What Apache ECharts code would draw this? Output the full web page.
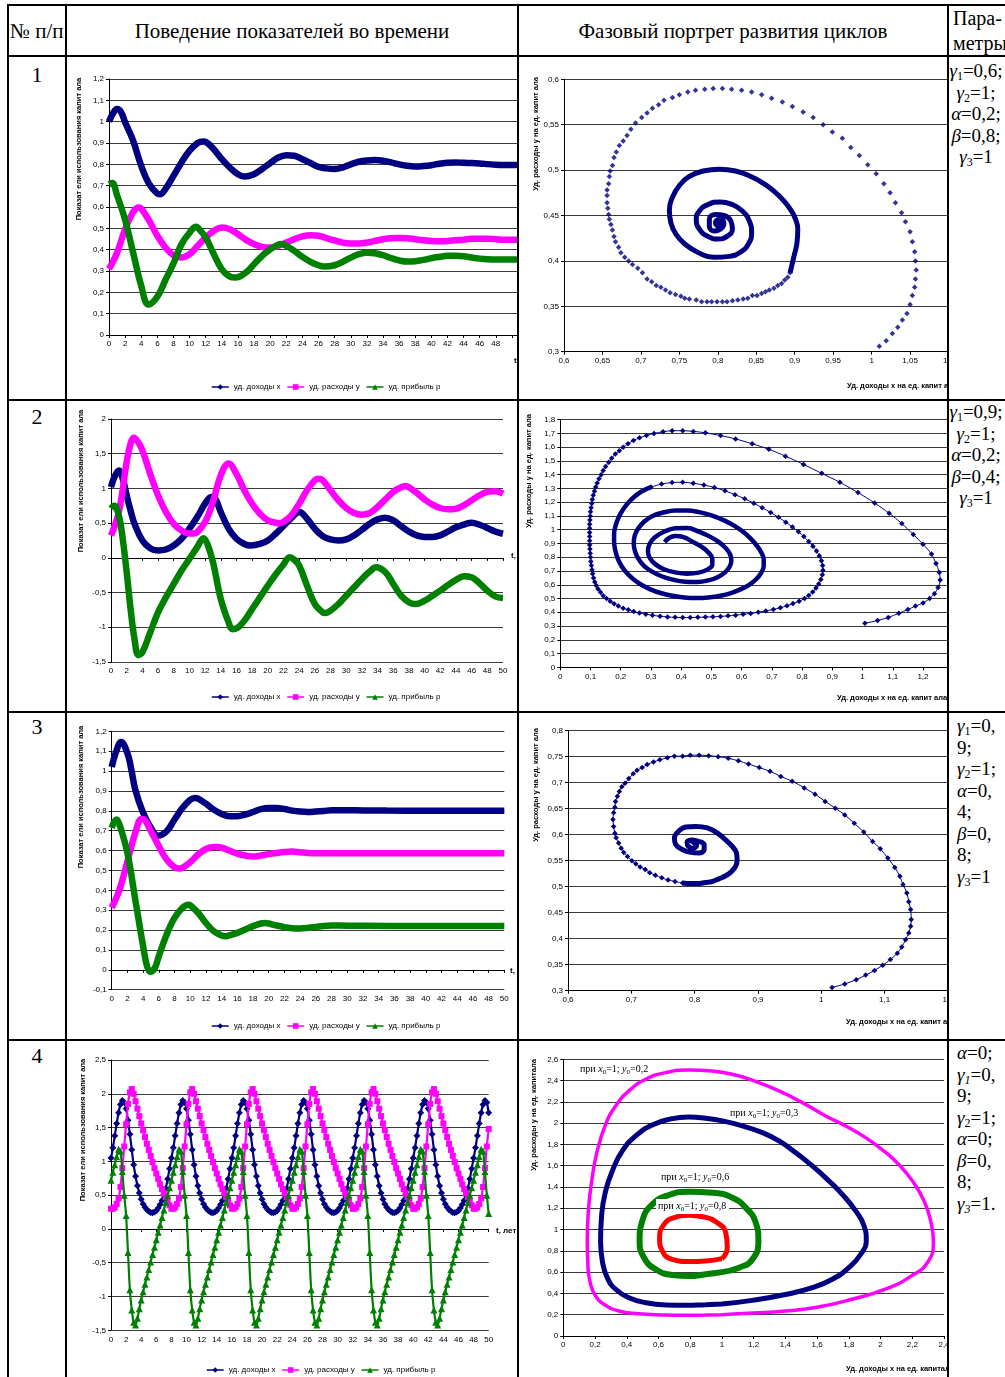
<!DOCTYPE html>
<html lang="ru"><head><meta charset="utf-8"><title>Циклы</title>
<script src="https://cdn.jsdelivr.net/npm/echarts@6.0.0/dist/echarts.min.js"></script>
<style>
html,body{margin:0;padding:0;background:#fff;}
body{width:1005px;height:1377px;overflow:hidden;position:relative;font-family:"Liberation Serif","Times New Roman",serif;color:#000;}
.ln{position:absolute;background:#000;z-index:5;}
.clip{position:absolute;overflow:hidden;}
.ch{position:absolute;}
.tx{position:absolute;white-space:nowrap;line-height:1;}
.par{position:absolute;font-size:19px;line-height:21.5px;white-space:nowrap;}
.par sub{font-size:12px;vertical-align:-3px;line-height:0;}
.ann{position:absolute;font-size:10px;white-space:nowrap;line-height:1;z-index:4;}
.ann sub{font-size:7px;vertical-align:-2px;line-height:0;}
</style></head><body>

<div class="clip" style="left:67px;top:57px;width:450px;height:342px"><div id="t1" class="ch" style="left:-1px;top:-1px;width:540px;height:344px"></div></div>
<div class="clip" style="left:519px;top:57px;width:428px;height:342px"><div id="f1" class="ch" style="left:-1px;top:-1px;width:540px;height:344px"></div></div>
<div class="clip" style="left:67px;top:401px;width:450px;height:310px"><div id="t2" class="ch" style="left:-1px;top:-1px;width:540px;height:312px"></div></div>
<div class="clip" style="left:519px;top:401px;width:428px;height:310px"><div id="f2" class="ch" style="left:-1px;top:-1px;width:540px;height:312px"></div></div>
<div class="clip" style="left:67px;top:713px;width:450px;height:326px"><div id="t3" class="ch" style="left:-1px;top:-1px;width:540px;height:328px"></div></div>
<div class="clip" style="left:519px;top:713px;width:428px;height:326px"><div id="f3" class="ch" style="left:-1px;top:-1px;width:540px;height:328px"></div></div>
<div class="clip" style="left:67px;top:1041px;width:450px;height:336px"><div id="t4" class="ch" style="left:-1px;top:-1px;width:540px;height:338px"></div></div>
<div class="clip" style="left:519px;top:1041px;width:428px;height:336px"><div id="f4" class="ch" style="left:-1px;top:-1px;width:540px;height:338px"></div></div>

<div class="ann" style="left:580px;top:1064px">при <i>x</i><sub>0</sub>=1; <i>y</i><sub>0</sub>=0,2</div>
<div class="ann" style="left:730px;top:1108px">при <i>x</i><sub>0</sub>=1; <i>y</i><sub>0</sub>=0,3</div>
<div class="ann" style="left:661px;top:1172px">при <i>x</i><sub>0</sub>=1; <i>y</i><sub>0</sub>=0,6</div>
<div class="ann" style="left:656px;top:1199px;background:#fff;padding:2px 3px 3px 2px">при <i>x</i><sub>0</sub>=1; <i>y</i><sub>0</sub>=0,8</div>

<div class="tx" style="left:10px;top:21px;font-size:21px">№ п/п</div>
<div class="tx" style="left:67px;width:450px;top:21px;font-size:21px;text-align:center">Поведение показателей во времени</div>
<div class="tx" style="left:519px;width:428px;top:21px;font-size:21px;text-align:center">Фазовый портрет развития циклов</div>
<div class="tx" style="left:953px;top:8px;font-size:20px">Пара-</div>
<div class="tx" style="left:953px;top:33px;font-size:20px">метры</div>

<div class="tx" style="left:9px;width:56px;top:64px;font-size:22px;text-align:center">1</div>
<div class="tx" style="left:9px;width:56px;top:406px;font-size:22px;text-align:center">2</div>
<div class="tx" style="left:9px;width:56px;top:716px;font-size:22px;text-align:center">3</div>
<div class="tx" style="left:9px;width:56px;top:1045px;font-size:22px;text-align:center">4</div>

<div class="par" style="left:947px;width:58px;top:60px;text-align:center"><i>γ</i><sub>1</sub>=0,6;<br><i>γ</i><sub>2</sub>=1;<br><i>α</i>=0,2;<br><i>β</i>=0,8;<br><i>γ</i><sub>3</sub>=1</div>
<div class="par" style="left:947px;width:58px;top:401px;text-align:center"><i>γ</i><sub>1</sub>=0,9;<br><i>γ</i><sub>2</sub>=1;<br><i>α</i>=0,2;<br><i>β</i>=0,4;<br><i>γ</i><sub>3</sub>=1</div>
<div class="par" style="left:957px;top:715px"><i>γ</i><sub>1</sub>=0,<br>9;<br><i>γ</i><sub>2</sub>=1;<br><i>α</i>=0,<br>4;<br><i>β</i>=0,<br>8;<br><i>γ</i><sub>3</sub>=1</div>
<div class="par" style="left:957px;top:1042px"><i>α</i>=0;<br><i>γ</i><sub><i>1</i></sub>=0,<br>9;<br><i>γ</i><sub>2</sub>=1;<br><i>α</i>=0;<br><i>β</i>=0,<br>8;<br><i>γ</i><sub><i>3</i></sub>=1.</div>

<div class="ln" style="left:7px;top:4px;width:998px;height:2px"></div>
<div class="ln" style="left:7px;top:55px;width:998px;height:2px"></div>
<div class="ln" style="left:7px;top:399px;width:998px;height:2px"></div>
<div class="ln" style="left:7px;top:711px;width:998px;height:2px"></div>
<div class="ln" style="left:7px;top:1039px;width:998px;height:2px"></div>
<div class="ln" style="left:7px;top:4px;width:2px;height:1373px"></div>
<div class="ln" style="left:65px;top:4px;width:2px;height:1373px"></div>
<div class="ln" style="left:517px;top:4px;width:2px;height:1373px"></div>
<div class="ln" style="left:947px;top:4px;width:2px;height:1373px"></div>

<script>
// ---------- data ----------
const seriesNames = ['уд. доходы x', 'уд. расходы y', 'уд. прибыль p'];
const timeAxisName = 't,';
const timeAxisName4 = 't, лет';
const yNameTime = 'Показат ели использования капит ала';
const yNamePhase = 'Уд. расходы у на ед. капит ала';
const xNamePhase = 'Уд. доходы х на ед. капит ала';
const yNamePhase4 = 'Уд. расходы у на ед. капитала';
const xNamePhase4 = 'Уд. доходы х на ед. капитала';

// Row 1 (time, value)
const r1x = [[0,1.0],[0.5,1.04],[1,1.059],[1.5,1.045],[2,0.997],[3,0.91],[4,0.793],[5,0.707],[6,0.663],[6.3,0.66],[7,0.684],[8,0.746],[9,0.809],[10,0.864],[11,0.9],[11.7,0.907],[12,0.905],[13,0.871],[14,0.824],[15,0.785],[16,0.754],[16.8,0.743],[18,0.754],[19,0.778],[20,0.806],[21,0.832],[22,0.843],[23,0.84],[24,0.824],[25,0.806],[26,0.788],[27,0.781],[28,0.778],[29,0.785],[30,0.8],[31,0.812],[32,0.818],[33,0.82],[34,0.817],[35,0.809],[36,0.8],[37,0.793],[38,0.79],[39,0.792],[40,0.796],[41,0.803],[42,0.807],[43,0.809],[44,0.807],[45,0.806],[46,0.804],[47,0.801],[48,0.798],[49,0.797],[50,0.797],[51,0.798]];
const r1y = [[0,0.31],[1,0.386],[2,0.496],[3,0.577],[3.7,0.598],[4,0.593],[5,0.535],[6,0.465],[7,0.41],[8,0.374],[9,0.363],[10,0.379],[11,0.418],[12,0.457],[13,0.488],[14,0.504],[15,0.496],[16,0.472],[17,0.446],[18,0.426],[19,0.413],[20,0.41],[21,0.418],[22,0.433],[23,0.449],[24,0.462],[25,0.468],[26,0.465],[27,0.454],[28,0.443],[29,0.433],[30,0.429],[31,0.429],[32,0.433],[33,0.441],[34,0.449],[35,0.454],[36,0.455],[37,0.454],[38,0.449],[39,0.444],[40,0.441],[41,0.44],[42,0.441],[43,0.444],[44,0.447],[45,0.451],[46,0.451],[47,0.451],[48,0.449],[49,0.447],[50,0.447],[51,0.447]];
const r1p = [[0,0.707],[0.4,0.712],[1,0.655],[2,0.54],[3,0.385],[4,0.23],[4.9,0.143],[6,0.18],[7,0.258],[8,0.336],[9,0.426],[10,0.48],[10.8,0.508],[11,0.504],[12,0.457],[13,0.379],[14,0.308],[15,0.274],[15.7,0.269],[17,0.293],[18,0.332],[19,0.371],[20,0.402],[21,0.424],[21.3,0.426],[22,0.418],[23,0.394],[24,0.366],[25,0.343],[26,0.327],[26.7,0.321],[28,0.327],[29,0.343],[30,0.363],[31,0.379],[32,0.386],[33,0.383],[34,0.374],[35,0.361],[36,0.35],[37,0.344],[38,0.346],[39,0.352],[40,0.36],[41,0.366],[42,0.371],[43,0.371],[44,0.369],[45,0.363],[46,0.358],[47,0.355],[48,0.354],[49,0.354],[50,0.354],[51,0.354]];

// Row 2
const r2x = [[0,1.02],[0.5,1.18],[1,1.26],[1.5,1.14],[2,0.9],[2.5,0.68],[3,0.49],[4,0.25],[5,0.14],[6,0.106],[7,0.12],[8,0.178],[9,0.275],[10,0.42],[11,0.588],[12,0.78],[12.8,0.877],[13.3,0.85],[14,0.66],[15,0.42],[16,0.275],[17,0.2],[17.8,0.178],[19,0.2],[20,0.25],[21,0.347],[22,0.458],[23,0.573],[24,0.66],[25,0.564],[26,0.42],[27,0.313],[28,0.265],[29,0.25],[30,0.265],[31,0.323],[32,0.405],[33,0.49],[34,0.554],[35,0.578],[36,0.54],[37,0.458],[38,0.38],[39,0.323],[40,0.3],[41,0.3],[42,0.323],[43,0.38],[44,0.44],[45,0.48],[46,0.506],[47,0.477],[48,0.43],[49,0.38],[50,0.347]];
const r2y = [[0,0.323],[1,0.66],[2,1.38],[2.5,1.65],[2.9,1.73],[3.5,1.66],[4,1.55],[5,1.21],[6,0.9],[7,0.66],[8,0.49],[9,0.395],[10,0.35],[10.5,0.35],[11,0.37],[12,0.516],[13,0.805],[14,1.19],[15,1.36],[16,1.21],[17,0.973],[18,0.78],[19,0.636],[20,0.54],[21,0.506],[21.5,0.5],[22,0.516],[23,0.612],[24,0.78],[25,0.973],[26,1.118],[26.5,1.14],[27,1.118],[28,0.973],[29,0.83],[30,0.718],[31,0.646],[32,0.622],[33,0.646],[34,0.733],[35,0.843],[36,0.95],[37,1.017],[37.6,1.03],[38,1.017],[39,0.935],[40,0.843],[41,0.766],[42,0.718],[43,0.699],[44,0.708],[45,0.757],[46,0.83],[47,0.9],[48,0.95],[49,0.96],[50,0.925]];
const r2p = [[0,0.71],[0.4,0.75],[1,0.61],[1.5,0.27],[2,-0.207],[2.5,-0.737],[3,-1.17],[3.5,-1.4],[4,-1.36],[5,-1.075],[6,-0.785],[7,-0.57],[8,-0.376],[9,-0.183],[10,-0.014],[11,0.154],[11.8,0.284],[12.3,0.2],[13,-0.06],[14,-0.59],[15,-0.93],[15.5,-1.027],[16,-1.017],[17,-0.906],[18,-0.737],[19,-0.569],[20,-0.4],[21,-0.24],[22,-0.096],[22.8,0.01],[23.3,-0.02],[24,-0.11],[25,-0.4],[26,-0.665],[27,-0.785],[27.3,-0.795],[28,-0.76],[29,-0.665],[30,-0.545],[31,-0.424],[32,-0.304],[33,-0.198],[33.8,-0.135],[35,-0.207],[36,-0.376],[37,-0.545],[38,-0.64],[38.8,-0.665],[40,-0.617],[41,-0.545],[42,-0.472],[43,-0.39],[44,-0.318],[45,-0.265],[46,-0.28],[47,-0.366],[48,-0.472],[49,-0.554],[50,-0.578]];

// Row 3
const r3x = [[0,1.02],[0.5,1.09],[1.2,1.146],[2,1.09],[2.5,1.007],[3,0.907],[4,0.79],[5,0.714],[5.9,0.675],[7,0.697],[8,0.756],[9,0.814],[10,0.856],[10.6,0.865],[11,0.861],[12,0.836],[13,0.806],[14,0.784],[15,0.773],[16,0.773],[17,0.781],[18,0.794],[19,0.808],[20,0.814],[21,0.814],[22,0.809],[23,0.801],[24,0.796],[25,0.794],[26,0.796],[27,0.799],[28,0.803],[30,0.803],[32,0.802],[35,0.801],[40,0.8],[45,0.8],[50,0.8]];
const r3y = [[0,0.312],[1,0.404],[2,0.546],[3,0.689],[3.8,0.759],[4.2,0.755],[5,0.697],[6,0.622],[7,0.555],[8,0.516],[8.6,0.51],[9,0.513],[10,0.541],[11,0.58],[12,0.608],[13,0.618],[13.5,0.618],[14,0.615],[15,0.6],[16,0.585],[17,0.575],[18,0.57],[19,0.575],[20,0.582],[21,0.588],[22,0.593],[23,0.595],[24,0.592],[25,0.588],[26,0.587],[28,0.587],[30,0.587],[35,0.587],[40,0.587],[45,0.587],[50,0.587]];
const r3p = [[0,0.714],[0.6,0.756],[1,0.73],[2,0.588],[3,0.354],[4,0.119],[4.5,0.018],[4.9,-0.01],[5.5,0.01],[6,0.069],[7,0.178],[8,0.261],[9,0.312],[9.8,0.328],[10,0.325],[11,0.287],[12,0.236],[13,0.194],[14,0.173],[14.5,0.169],[15,0.173],[16,0.186],[17,0.203],[18,0.22],[19,0.233],[19.5,0.236],[20,0.233],[21,0.223],[22,0.215],[23,0.209],[24,0.208],[25,0.211],[26,0.216],[27,0.221],[28,0.223],[30,0.222],[35,0.221],[40,0.221],[45,0.221],[50,0.221]];

// Row 4 (times, step 0.25, and values)
const r4t = [0,0.25,0.5,0.75,1,1.25,1.5,1.75,2,2.25,2.5,2.75,3,3.25,3.5,3.75,4,4.25,4.5,4.75,5,5.25,5.5,5.75,6,6.25,6.5,6.75,7,7.25,7.5,7.75,
 8,8.25,8.5,8.75,9,9.25,9.5,9.75,10,10.25,10.5,10.75,11,11.25,11.5,11.75,12,12.25,12.5,12.75,13,13.25,13.5,13.75,14,14.25,14.5,14.75,15,15.25,15.5,15.75,
 16,16.25,16.5,16.75,17,17.25,17.5,17.75,18,18.25,18.5,18.75,19,19.25,19.5,19.75,20,20.25,20.5,20.75,21,21.25,21.5,21.75,22,22.25,22.5,22.75,23,23.25,23.5,23.75,
 24,24.25,24.5,24.75,25,25.25,25.5,25.75,26,26.25,26.5,26.75,27,27.25,27.5,27.75,28,28.25,28.5,28.75,29,29.25,29.5,29.75,30,30.25,30.5,30.75,31,31.25,31.5,31.75,
 32,32.25,32.5,32.75,33,33.25,33.5,33.75,34,34.25,34.5,34.75,35,35.25,35.5,35.75,36,36.25,36.5,36.75,37,37.25,37.5,37.75,38,38.25,38.5,38.75,39,39.25,39.5,39.75,
 40,40.25,40.5,40.75,41,41.25,41.5,41.75,42,42.25,42.5,42.75,43,43.25,43.5,43.75,44,44.25,44.5,44.75,45,45.25,45.5,45.75,46,46.25,46.5,46.75,47,47.25,47.5,47.75,
 48,48.25,48.5,48.75,49,49.25,49.5,49.75,50];
const r4x = [
 1.05,1.2,1.38,1.56,1.72,1.84,1.9,1.87,1.78,1.61,1.4,1.17,0.95,0.78,0.64,0.53,0.44,0.37,0.32,0.285,0.26,0.245,0.24,0.25,0.27,0.31,0.36,0.42,0.5,0.6,0.74,0.89,
 1.05,1.2,1.38,1.56,1.72,1.84,1.9,1.87,1.78,1.61,1.4,1.17,0.95,0.78,0.64,0.53,0.44,0.37,0.32,0.285,0.26,0.245,0.24,0.25,0.27,0.31,0.36,0.42,0.5,0.6,0.74,0.89,
 1.05,1.2,1.38,1.56,1.72,1.84,1.9,1.87,1.78,1.61,1.4,1.17,0.95,0.78,0.64,0.53,0.44,0.37,0.32,0.285,0.26,0.245,0.24,0.25,0.27,0.31,0.36,0.42,0.5,0.6,0.74,0.89,
 1.05,1.2,1.38,1.56,1.72,1.84,1.9,1.87,1.78,1.61,1.4,1.17,0.95,0.78,0.64,0.53,0.44,0.37,0.32,0.285,0.26,0.245,0.24,0.25,0.27,0.31,0.36,0.42,0.5,0.6,0.74,0.89,
 1.05,1.2,1.38,1.56,1.72,1.84,1.9,1.87,1.78,1.61,1.4,1.17,0.95,0.78,0.64,0.53,0.44,0.37,0.32,0.285,0.26,0.245,0.24,0.25,0.27,0.31,0.36,0.42,0.5,0.6,0.74,0.89,
 1.05,1.2,1.38,1.56,1.72,1.84,1.9,1.87,1.78,1.61,1.4,1.17,0.95,0.78,0.64,0.53,0.44,0.37,0.32,0.285,0.26,0.245,0.24,0.25,0.27,0.31,0.36,0.42,0.5,0.6,0.74,0.89,
 1.05,1.2,1.38,1.56,1.72,1.84,1.9,1.87,1.72];
const r4y = [
 0.3,0.3,0.32,0.37,0.45,0.62,0.9,1.22,1.55,1.85,2.02,2.07,2.0,1.89,1.78,1.67,1.56,1.46,1.36,1.26,1.17,1.08,0.99,0.9,0.82,0.74,0.66,0.59,0.53,0.47,0.41,0.35,
 0.3,0.3,0.32,0.37,0.45,0.62,0.9,1.22,1.55,1.85,2.02,2.07,2.0,1.89,1.78,1.67,1.56,1.46,1.36,1.26,1.17,1.08,0.99,0.9,0.82,0.74,0.66,0.59,0.53,0.47,0.41,0.35,
 0.3,0.3,0.32,0.37,0.45,0.62,0.9,1.22,1.55,1.85,2.02,2.07,2.0,1.89,1.78,1.67,1.56,1.46,1.36,1.26,1.17,1.08,0.99,0.9,0.82,0.74,0.66,0.59,0.53,0.47,0.41,0.35,
 0.3,0.3,0.32,0.37,0.45,0.62,0.9,1.22,1.55,1.85,2.02,2.07,2.0,1.89,1.78,1.67,1.56,1.46,1.36,1.26,1.17,1.08,0.99,0.9,0.82,0.74,0.66,0.59,0.53,0.47,0.41,0.35,
 0.3,0.3,0.32,0.37,0.45,0.62,0.9,1.22,1.55,1.85,2.02,2.07,2.0,1.89,1.78,1.67,1.56,1.46,1.36,1.26,1.17,1.08,0.99,0.9,0.82,0.74,0.66,0.59,0.53,0.47,0.41,0.35,
 0.3,0.3,0.32,0.37,0.45,0.62,0.9,1.22,1.55,1.85,2.02,2.07,2.0,1.89,1.78,1.67,1.56,1.46,1.36,1.26,1.17,1.08,0.99,0.9,0.82,0.74,0.66,0.59,0.53,0.47,0.41,0.35,
 0.3,0.3,0.32,0.37,0.45,0.62,0.9,1.22,1.48];
const r4p = [
 0.72,0.84,0.95,1.07,1.18,1.15,0.85,0.5,0.2,-0.35,-0.9,-1.2,-1.38,-1.42,-1.32,-1.18,-1.05,-0.93,-0.82,-0.71,-0.6,-0.49,-0.38,-0.27,-0.16,-0.05,0.06,0.17,0.28,0.39,0.5,0.61,
 0.72,0.84,0.95,1.07,1.18,1.15,0.85,0.5,0.2,-0.35,-0.9,-1.2,-1.38,-1.42,-1.32,-1.18,-1.05,-0.93,-0.82,-0.71,-0.6,-0.49,-0.38,-0.27,-0.16,-0.05,0.06,0.17,0.28,0.39,0.5,0.61,
 0.72,0.84,0.95,1.07,1.18,1.15,0.85,0.5,0.2,-0.35,-0.9,-1.2,-1.38,-1.42,-1.32,-1.18,-1.05,-0.93,-0.82,-0.71,-0.6,-0.49,-0.38,-0.27,-0.16,-0.05,0.06,0.17,0.28,0.39,0.5,0.61,
 0.72,0.84,0.95,1.07,1.18,1.15,0.85,0.5,0.2,-0.35,-0.9,-1.2,-1.38,-1.42,-1.32,-1.18,-1.05,-0.93,-0.82,-0.71,-0.6,-0.49,-0.38,-0.27,-0.16,-0.05,0.06,0.17,0.28,0.39,0.5,0.61,
 0.72,0.84,0.95,1.07,1.18,1.15,0.85,0.5,0.2,-0.35,-0.9,-1.2,-1.38,-1.42,-1.32,-1.18,-1.05,-0.93,-0.82,-0.71,-0.6,-0.49,-0.38,-0.27,-0.16,-0.05,0.06,0.17,0.28,0.39,0.5,0.61,
 0.72,0.84,0.95,1.07,1.18,1.15,0.85,0.5,0.2,-0.35,-0.9,-1.2,-1.38,-1.42,-1.32,-1.18,-1.05,-0.93,-0.82,-0.71,-0.6,-0.49,-0.38,-0.27,-0.16,-0.05,0.06,0.17,0.28,0.39,0.5,0.61,
 0.72,0.84,0.95,1.07,1.18,1.15,0.85,0.5,0.23];

// Phase portraits (x, y)
const ph1Outer = [[1.010,0.306],[1.019,0.312],[1.027,0.320],[1.034,0.327],[1.040,0.335],[1.046,0.342],[1.050,0.352],[1.053,0.362],[1.056,0.371],[1.057,0.380],[1.058,0.390],[1.057,0.400],[1.056,0.410],[1.053,0.421],[1.050,0.432],[1.044,0.443],[1.039,0.453],[1.031,0.464],[1.024,0.475],[1.016,0.485],[1.006,0.496],[0.995,0.506],[0.984,0.516],[0.973,0.525],[0.962,0.535],[0.949,0.542],[0.937,0.550],[0.924,0.558],[0.911,0.564],[0.897,0.570],[0.884,0.575],[0.870,0.579],[0.857,0.583],[0.844,0.586],[0.831,0.588],[0.818,0.589],[0.806,0.590],[0.794,0.590],[0.783,0.589],[0.771,0.588],[0.761,0.586],[0.750,0.583],[0.741,0.580],[0.730,0.577],[0.723,0.572],[0.715,0.568],[0.708,0.563],[0.701,0.558],[0.693,0.552],[0.687,0.545],[0.682,0.538],[0.677,0.532],[0.672,0.527],[0.668,0.520],[0.665,0.514],[0.663,0.505],[0.660,0.499],[0.659,0.493],[0.658,0.485],[0.656,0.478],[0.656,0.472],[0.656,0.464],[0.657,0.458],[0.658,0.451],[0.659,0.446],[0.661,0.440],[0.663,0.434],[0.665,0.427],[0.667,0.421],[0.671,0.415],[0.674,0.409],[0.679,0.404],[0.684,0.400],[0.689,0.396],[0.696,0.392],[0.702,0.387],[0.708,0.380],[0.714,0.377],[0.720,0.373],[0.726,0.371],[0.732,0.368],[0.738,0.365],[0.745,0.363],[0.752,0.361],[0.757,0.359],[0.763,0.358],[0.772,0.357],[0.779,0.355],[0.786,0.355],[0.792,0.355],[0.799,0.355],[0.806,0.355],[0.812,0.355],[0.819,0.356],[0.826,0.357],[0.833,0.358],[0.839,0.359],[0.845,0.362],[0.851,0.362],[0.857,0.364],[0.862,0.366],[0.867,0.368],[0.873,0.370],[0.878,0.373],[0.883,0.375],[0.887,0.379],[0.891,0.382],[0.894,0.387]];
const ph1Inner = [[0.894,0.387],[0.899,0.405],[0.903,0.420],[0.904,0.435],[0.901,0.446],[0.895,0.456],[0.886,0.466],[0.874,0.476],[0.860,0.485],[0.843,0.493],[0.823,0.499],[0.802,0.501],[0.781,0.499],[0.763,0.493],[0.750,0.483],[0.741,0.470],[0.737,0.456],[0.739,0.442],[0.746,0.429],[0.758,0.418],[0.775,0.409],[0.795,0.404],[0.815,0.405],[0.830,0.410],[0.840,0.419],[0.844,0.431],[0.841,0.444],[0.832,0.455],[0.819,0.462],[0.803,0.465],[0.787,0.462],[0.776,0.455],[0.772,0.446],[0.776,0.435],[0.787,0.427],[0.800,0.424],[0.812,0.427],[0.819,0.435],[0.817,0.444],[0.808,0.450],[0.797,0.451],[0.789,0.446],[0.789,0.438],[0.796,0.433],[0.805,0.436],[0.808,0.442],[0.802,0.446],[0.797,0.442],[0.801,0.438],[0.803,0.441],[0.800,0.441]];

const ph2Outer = [[1.008,0.32],[1.05,0.34],[1.085,0.362],[1.12,0.393],[1.15,0.42],[1.175,0.445],[1.2,0.468],[1.222,0.5],[1.238,0.535],[1.25,0.58],[1.257,0.635],[1.254,0.69],[1.243,0.755],[1.228,0.823],[1.2,0.895],[1.168,0.965],[1.13,1.045],[1.088,1.12],[1.04,1.195],[0.985,1.27],[0.925,1.345],[0.865,1.41],[0.805,1.475],[0.745,1.535],[0.69,1.585],[0.635,1.625],[0.58,1.66],[0.53,1.685],[0.48,1.705],[0.44,1.715],[0.405,1.72],[0.37,1.72],[0.34,1.712],[0.31,1.7],[0.285,1.685],[0.262,1.668],[0.242,1.648],[0.224,1.625],[0.208,1.6],[0.195,1.575],[0.182,1.55],[0.17,1.52],[0.16,1.49],[0.15,1.46],[0.142,1.43],[0.135,1.4],[0.128,1.37],[0.122,1.34],[0.117,1.31],[0.113,1.28],[0.109,1.25],[0.106,1.22],[0.104,1.19],[0.102,1.16],[0.1,1.13],[0.099,1.1],[0.098,1.07],[0.097,1.04],[0.097,1.01],[0.097,0.98],[0.097,0.95],[0.097,0.92],[0.097,0.89],[0.098,0.86],[0.099,0.83],[0.1,0.8],[0.101,0.77],[0.103,0.74],[0.105,0.71],[0.107,0.68],[0.11,0.65],[0.114,0.62],[0.119,0.595],[0.125,0.57],[0.133,0.545],[0.142,0.52],[0.153,0.5],[0.165,0.48],[0.178,0.462],[0.192,0.445],[0.208,0.43],[0.225,0.418],[0.243,0.406],[0.262,0.395],[0.283,0.386],[0.305,0.378],[0.33,0.371],[0.355,0.366],[0.38,0.363],[0.405,0.362],[0.43,0.362],[0.455,0.363],[0.48,0.365],[0.505,0.367],[0.53,0.37],[0.555,0.374],[0.58,0.379],[0.605,0.385],[0.63,0.392],[0.655,0.4],[0.68,0.41],[0.705,0.421],[0.728,0.433],[0.75,0.447],[0.77,0.463],[0.79,0.48],[0.808,0.5],[0.822,0.522],[0.835,0.548],[0.846,0.576],[0.855,0.606],[0.862,0.638],[0.867,0.672],[0.869,0.706],[0.868,0.74],[0.864,0.775],[0.857,0.81],[0.848,0.845],[0.836,0.88],[0.822,0.915],[0.806,0.95],[0.788,0.985],[0.768,1.02],[0.746,1.055],[0.722,1.09],[0.696,1.125],[0.668,1.16],[0.64,1.193],[0.61,1.225],[0.578,1.255],[0.545,1.283],[0.51,1.307],[0.475,1.325],[0.44,1.338],[0.405,1.345],[0.37,1.343],[0.335,1.332],[0.3,1.31]];
const ph2Inner = [[0.3,1.31],[0.27,1.28],[0.245,1.24],[0.224,1.195],[0.207,1.145],[0.193,1.09],[0.183,1.03],[0.178,0.97],[0.178,0.91],[0.182,0.85],[0.19,0.79],[0.203,0.735],[0.22,0.685],[0.242,0.64],[0.268,0.6],[0.298,0.567],[0.332,0.54],[0.37,0.52],[0.41,0.507],[0.45,0.503],[0.49,0.507],[0.53,0.52],[0.565,0.54],[0.598,0.568],[0.625,0.6],[0.648,0.64],[0.664,0.685],[0.673,0.735],[0.673,0.785],[0.665,0.835],[0.65,0.885],[0.63,0.935],[0.605,0.985],[0.575,1.03],[0.54,1.07],[0.5,1.105],[0.46,1.128],[0.42,1.14],[0.38,1.14],[0.34,1.125],[0.305,1.1],[0.278,1.06],[0.258,1.01],[0.246,0.955],[0.243,0.9],[0.247,0.845],[0.258,0.79],[0.276,0.74],[0.302,0.697],[0.335,0.662],[0.372,0.637],[0.412,0.622],[0.452,0.62],[0.49,0.632],[0.522,0.657],[0.545,0.69],[0.56,0.73],[0.566,0.775],[0.562,0.82],[0.548,0.865],[0.525,0.91],[0.495,0.95],[0.46,0.985],[0.42,1.012],[0.38,1.01],[0.343,0.985],[0.313,0.945],[0.295,0.895],[0.29,0.845],[0.296,0.795],[0.314,0.75],[0.343,0.713],[0.38,0.69],[0.42,0.68],[0.458,0.688],[0.488,0.712],[0.503,0.748],[0.503,0.79],[0.49,0.835],[0.468,0.875],[0.44,0.91],[0.41,0.945],[0.38,0.955],[0.36,0.94],[0.345,0.91]];

const ph3Outer = [[1.017,0.306],[1.037,0.313],[1.055,0.321],[1.070,0.330],[1.084,0.339],[1.097,0.349],[1.109,0.360],[1.120,0.372],[1.127,0.384],[1.133,0.398],[1.138,0.411],[1.141,0.424],[1.142,0.437],[1.141,0.456],[1.138,0.471],[1.135,0.488],[1.129,0.504],[1.124,0.520],[1.116,0.537],[1.105,0.555],[1.093,0.573],[1.081,0.587],[1.067,0.605],[1.052,0.622],[1.037,0.638],[1.022,0.651],[1.006,0.664],[0.990,0.678],[0.973,0.690],[0.954,0.703],[0.936,0.712],[0.919,0.722],[0.902,0.729],[0.885,0.736],[0.869,0.742],[0.853,0.747],[0.837,0.750],[0.822,0.752],[0.807,0.753],[0.793,0.753],[0.781,0.751],[0.768,0.751],[0.757,0.748],[0.745,0.744],[0.735,0.740],[0.725,0.735],[0.717,0.729],[0.709,0.724],[0.703,0.717],[0.696,0.708],[0.690,0.699],[0.685,0.692],[0.681,0.683],[0.678,0.674],[0.675,0.664],[0.674,0.653],[0.672,0.642],[0.671,0.629],[0.672,0.616],[0.674,0.603],[0.676,0.594],[0.680,0.584],[0.684,0.574],[0.688,0.566],[0.694,0.558],[0.701,0.550],[0.707,0.544],[0.714,0.538],[0.722,0.533],[0.729,0.527],[0.738,0.522],[0.748,0.517],[0.758,0.513],[0.769,0.510],[0.781,0.507]];
const ph3Inner = [[0.781,0.507],[0.792,0.506],[0.804,0.506],[0.817,0.508],[0.828,0.510],[0.838,0.515],[0.849,0.521],[0.858,0.529],[0.865,0.540],[0.867,0.552],[0.866,0.565],[0.859,0.578],[0.849,0.590],[0.836,0.603],[0.820,0.613],[0.802,0.616],[0.786,0.615],[0.774,0.606],[0.768,0.594],[0.770,0.581],[0.781,0.571],[0.794,0.566],[0.807,0.565],[0.815,0.571],[0.815,0.581],[0.807,0.587],[0.796,0.590],[0.788,0.585],[0.790,0.578],[0.797,0.574],[0.803,0.579],[0.799,0.584],[0.796,0.581]];

const ph4m = [[1.0,0.2],[1.2,0.215],[1.4,0.235],[1.6,0.27],[1.82,0.345],[2.03,0.44],[2.19,0.56],[2.3,0.7],[2.333,0.89],[2.316,1.08],[2.274,1.27],[2.2,1.46],[2.116,1.61],[2.02,1.74],[1.906,1.864],[1.78,1.974],[1.654,2.068],[1.507,2.193],[1.36,2.303],[1.192,2.403],[1.066,2.459],[0.939,2.49],[0.792,2.5],[0.645,2.475],[0.519,2.412],[0.414,2.303],[0.33,2.162],[0.267,1.989],[0.214,1.739],[0.179,1.457],[0.158,1.175],[0.151,0.893],[0.156,0.642],[0.172,0.486],[0.204,0.376],[0.256,0.298],[0.351,0.235],[0.477,0.21],[0.624,0.197],[0.771,0.194],[0.897,0.197],[1.0,0.2]];
const ph4n = [[1.0,0.3],[1.19,0.335],[1.4,0.39],[1.57,0.454],[1.696,0.533],[1.8,0.642],[1.875,0.768],[1.91,0.9],[1.896,1.034],[1.843,1.175],[1.759,1.331],[1.675,1.457],[1.57,1.598],[1.465,1.723],[1.36,1.833],[1.255,1.911],[1.129,1.974],[1.003,2.021],[0.897,2.046],[0.792,2.058],[0.666,2.036],[0.561,1.983],[0.456,1.88],[0.372,1.739],[0.309,1.551],[0.267,1.363],[0.242,1.143],[0.235,0.893],[0.246,0.705],[0.277,0.548],[0.33,0.439],[0.414,0.36],[0.519,0.313],[0.645,0.291],[0.771,0.288],[0.897,0.294],[1.0,0.3]];
const ph4g = [[1.0,0.6],[1.108,0.642],[1.192,0.72],[1.23,0.893],[1.213,1.065],[1.15,1.206],[1.066,1.3],[0.939,1.347],[0.792,1.356],[0.666,1.325],[0.561,1.237],[0.498,1.081],[0.481,0.893],[0.509,0.736],[0.582,0.627],[0.687,0.573],[0.792,0.564],[0.897,0.58],[1.0,0.6]];
const ph4r = [[1.0,0.727],[1.034,0.83],[1.024,0.971],[0.971,1.065],[0.887,1.118],[0.792,1.134],[0.698,1.112],[0.635,1.049],[0.607,0.924],[0.624,0.799],[0.687,0.72],[0.792,0.699],[0.897,0.705],[1.0,0.727]];

// ---------- rendering ----------
const NAVY = '#000080', MAG = '#FF00FF', GRN = '#008000', RED = '#FF0000';
const FONT = '"Liberation Sans", Arial, sans-serif';
const fmt = v => String(Math.round(v * 100) / 100).replace('.', ',');

function txt(x, y, text, font, align, rot) {
  return {type: 'text', x, y, rotation: rot || 0, silent: true, z: 100,
    style: {text, font, fill: '#000', textAlign: align, align: align, textVerticalAlign: 'middle', verticalAlign: 'middle'}};
}
function valAxis(min, max, interval, split, fmtFn) {
  return {
    type: 'value', min, max, interval,
    axisLine: {show: true, onZero: true, lineStyle: {color: '#000', width: 1}},
    axisTick: {show: true, length: 3, lineStyle: {color: '#000'}},
    axisLabel: {show: true, fontSize: 8, color: '#000', fontFamily: FONT, margin: 5, formatter: fmtFn || fmt, hideOverlap: false},
    splitLine: {show: split, lineStyle: {color: '#3a3a3a', width: 1.2}},
    minorTick: {show: false}
  };
}

function timeChart(id, o) {
  const c = echarts.init(document.getElementById(id), null, {renderer: 'canvas'});
  const syms = ['diamond', 'rect', 'triangle'];
  const cols = [NAVY, MAG, GRN];
  const series = o.data.map((d, i) => ({
    name: seriesNames[i], type: 'line', data: d, smooth: o.smooth, symbol: syms[i],
    symbolSize: o.sym ? o.sym[i] : 6, showSymbol: !!o.sym,
    lineStyle: {width: o.lw, color: cols[i]}, itemStyle: {color: cols[i]},
    emphasis: {disabled: true}, animation: false, z: 2 + i
  }));
  c.setOption({
    animation: false,
    grid: {left: o.grid[0], top: o.grid[1], width: o.grid[2], height: o.grid[3], outerBoundsMode: 'none', containLabel: false},
    xAxis: valAxis(0, o.xMax, 2, false, v => (Math.abs(v % 2) < 1e-9 && v <= o.xLast) ? String(v) : ''),
    yAxis: valAxis(o.y[0], o.y[1], o.y[2], true),
    legend: {left: o.legend[0], top: o.legend[1], itemWidth: 17, itemHeight: 7, itemGap: 6, padding: 0,
      textStyle: {fontSize: 8, color: '#000', fontFamily: FONT}, lineStyle: {width: 1.5}, data: seriesNames, selectedMode: false},
    tooltip: {show: false},
    series,
    graphic: [
      txt(o.yName[0], o.yName[1], yNameTime, 'bold 7.5px ' + FONT, 'center', Math.PI / 2),
      txt(o.tName[0], o.tName[1], o.tText, 'bold 8px ' + FONT, 'left', 0)
    ]
  });
}

function phaseChart(id, o) {
  const c = echarts.init(document.getElementById(id), null, {renderer: 'canvas'});
  c.setOption({
    animation: false,
    grid: {left: o.grid[0], top: o.grid[1], width: o.grid[2], height: o.grid[3], outerBoundsMode: 'none', containLabel: false},
    xAxis: valAxis(o.x[0], o.x[1], o.x[2], false),
    yAxis: valAxis(o.y[0], o.y[1], o.y[2], true),
    tooltip: {show: false},
    series: o.series.map(s => Object.assign({emphasis: {disabled: true}, animation: false}, s)),
    graphic: [
      txt(o.yName[0], o.yName[1], o.yText, 'bold 7.5px ' + FONT, 'center', Math.PI / 2),
      txt(o.xName[0], o.xName[1], o.xText, 'bold 7.5px ' + FONT, 'left', 0)
    ]
  });
}

const zip = (t, v) => t.map((x, i) => [x, v[i]]);

timeChart('t1', {grid: [43, 23, 411, 256], xMax: 51, xLast: 48, y: [0, 1.2, 0.1], data: [r1x, r1y, r1p],
  lw: 6.5, smooth: 0.4, legend: [145, 327], yName: [13, 93], tName: [448, 305], tText: timeAxisName});
timeChart('t2', {grid: [45, 19, 392, 243], xMax: 50, xLast: 50, y: [-1.5, 2, 0.5], data: [r2x, r2y, r2p],
  lw: 6.5, smooth: 0.4, legend: [145, 293], yName: [15, 81], tName: [445, 156], tText: timeAxisName});
timeChart('t3', {grid: [45.7, 19.3, 392.6, 258.4], xMax: 50, xLast: 50, y: [-0.1, 1.2, 0.1], data: [r3x, r3y, r3p],
  lw: 6.5, smooth: 0.4, legend: [145, 310], yName: [15, 85], tName: [444, 259], tText: timeAxisName});
timeChart('t4', {grid: [45, 20, 377.7, 270.3], xMax: 50, xLast: 50, y: [-1.5, 2.5, 0.5],
  data: [zip(r4t, r4x), zip(r4t, r4y), zip(r4t, r4p)],
  lw: 2.2, smooth: 0.3, sym: [7, 6, 7], legend: [140, 326], yName: [17, 90], tName: [430, 191], tText: timeAxisName4});

phaseChart('f1', {grid: [46, 23.3, 384.5, 272.4], x: [0.6, 1.1, 0.05], y: [0.3, 0.6, 0.05],
  yName: [18, 78], xName: [329, 330], yText: yNamePhase, xText: xNamePhase,
  series: [
    {type: 'scatter', data: ph1Outer, symbol: 'diamond', symbolSize: 5.5, itemStyle: {color: NAVY}},
    {type: 'line', data: ph1Inner, smooth: 0.5, showSymbol: false, lineStyle: {width: 5, color: NAVY}}
  ]});
phaseChart('f2', {grid: [42.3, 19.7, 392.9, 247.6], x: [0, 1.3, 0.1], y: [0, 1.8, 0.1],
  yName: [11, 71], xName: [319, 298], yText: yNamePhase, xText: xNamePhase,
  series: [
    {type: 'line', data: ph2Outer, smooth: 0.3, symbol: 'diamond', symbolSize: 5.5, showSymbol: true, lineStyle: {width: 1, color: NAVY}, itemStyle: {color: NAVY}},
    {type: 'line', data: ph2Inner, smooth: 0.4, showSymbol: false, lineStyle: {width: 4.5, color: NAVY}}
  ]});
phaseChart('f3', {grid: [50, 18.7, 380, 260], x: [0.6, 1.2, 0.1], y: [0.3, 0.8, 0.05],
  yName: [18, 73], xName: [328, 310], yText: yNamePhase, xText: xNamePhase,
  series: [
    {type: 'line', data: ph3Outer, smooth: 0.3, symbol: 'diamond', symbolSize: 5.5, showSymbol: true, lineStyle: {width: 1, color: NAVY}, itemStyle: {color: NAVY}},
    {type: 'line', data: ph3Inner, smooth: 0.4, showSymbol: false, lineStyle: {width: 5, color: NAVY}}
  ]});
phaseChart('f4', {grid: [45.3, 19.3, 380.7, 276.7], x: [0, 2.4, 0.2], y: [0, 2.6, 0.2],
  yName: [16, 75], xName: [328, 329], yText: yNamePhase4, xText: xNamePhase4,
  series: [
    {type: 'line', data: ph4m, smooth: 0.5, showSymbol: false, lineStyle: {width: 3.5, color: MAG}},
    {type: 'line', data: ph4n, smooth: 0.5, showSymbol: false, lineStyle: {width: 5, color: NAVY}},
    {type: 'line', data: ph4g, smooth: 0.5, showSymbol: false, lineStyle: {width: 6, color: GRN}},
    {type: 'line', data: ph4r, smooth: 0.5, showSymbol: false, lineStyle: {width: 5, color: RED}}
  ]});
</script>
</body></html>
